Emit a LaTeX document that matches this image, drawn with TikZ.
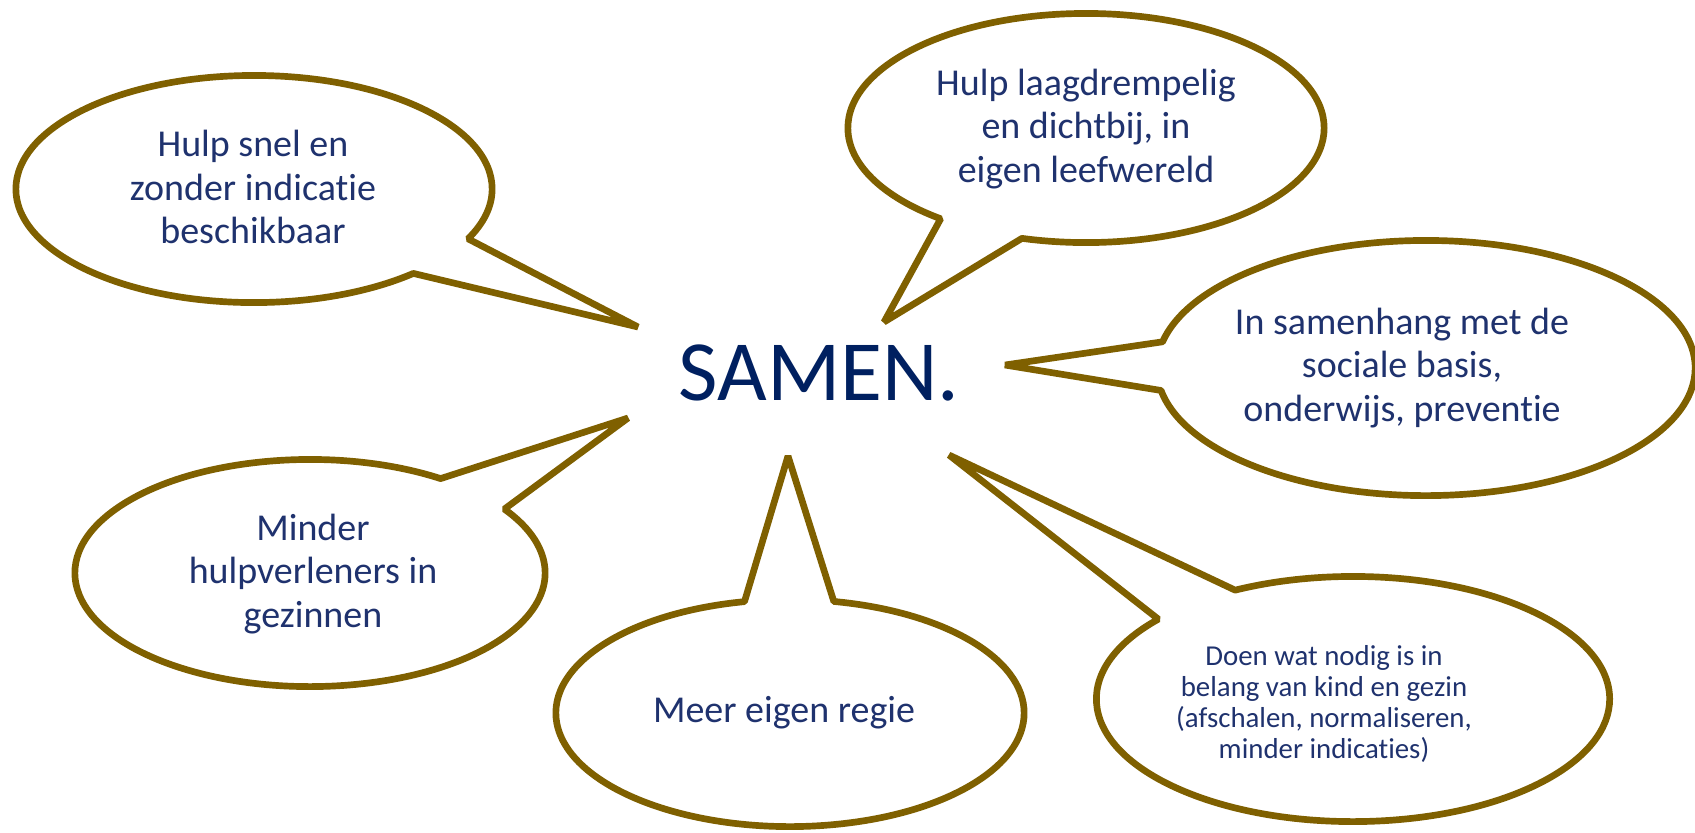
\documentclass[tikz,border=0pt]{standalone}
\usepackage{fontspec}
\setmainfont{Carlito}[Ligatures=CommonOff]
\usepackage{tikz}
\usetikzlibrary{shapes.callouts}

\definecolor{rim}{RGB}{127,96,0}
\definecolor{navy}{RGB}{0,32,96}
\definecolor{ink}{RGB}{31,50,110}

\begin{document}
\begin{tikzpicture}[x=0.01cm, y=-0.01cm,
    bubble/.style={ellipse callout, draw=rim, line width=1.9pt, line join=bevel, fill=white,
      callout pointer arc=22, inner sep=0pt},
    say/.style={text=ink, align=center, font=\fontsize{10.8}{12.3}\selectfont},
    small/.style={say, font=\fontsize{8.2}{8.9}\selectfont}]
  \useasboundingbox (0,0) rectangle (1695,832);
  \node [text=navy, font=\fontsize{24.4}{29}\selectfont] (samen) at (819,373) {SAMEN.};
  % where the bubbles point to
  \coordinate (t1) at (638,327);
  \coordinate (t2) at (884,322);
  \coordinate (t3) at (1005,365);
  \coordinate (t4) at (628,418);
  \coordinate (t5) at (788,456);
  \coordinate (t6) at (949,455);
  \node [bubble, minimum width=4.76cm, minimum height=2.27cm, callout absolute pointer={(t1)}] (b1) at (254,189) {};
  \node [bubble, minimum width=4.76cm, minimum height=2.29cm, callout absolute pointer={(t2)}] (b2) at (1086,128) {};
  \node [bubble, minimum width=5.38cm, minimum height=2.55cm, callout absolute pointer={(t3)}] (b3) at (1426,368) {};
  \node [bubble, minimum width=4.70cm, minimum height=2.27cm, callout absolute pointer={(t4)}] (b4) at (310,573) {};
  \node [bubble, minimum width=4.68cm, minimum height=2.27cm, callout absolute pointer={(t5)}] (b5) at (790,713) {};
  \node [bubble, minimum width=5.13cm, minimum height=2.45cm, callout absolute pointer={(t6)}] (b6) at (1353,699) {};
  \node [say] (s1) at (253,187) {Hulp snel en\\zonder indicatie\\beschikbaar};
  \node [say] (s2) at (1086,129) {Hulp laagdrempelig\\en dichtbij, in\\eigen leefwereld};
  \node [say] (s3) at (1402,368) {In samenhang met de\\sociale basis,\\onderwijs, preventie};
  \node [say] (s4) at (313,574) {Minder\\hulpverleners in\\gezinnen};
  \node [say] (s5) at (784,713) {Meer eigen regie};
  \node [small] (s6) at (1324,704) {Doen wat nodig is in\\belang van kind en gezin\\(afschalen, normaliseren,\\minder indicaties)};
\end{tikzpicture}
\end{document}
